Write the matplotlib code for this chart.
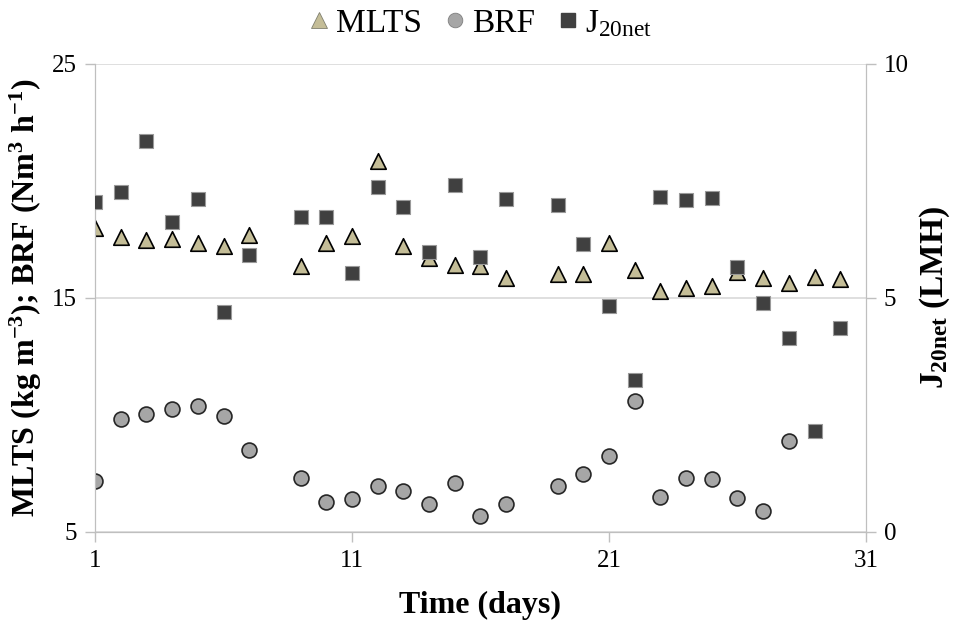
import matplotlib.pyplot as plt
from matplotlib.lines import Line2D

plt.rcParams["font.family"] = ["Liberation Serif", "DejaVu Serif"]
plt.rcParams["mathtext.fontset"] = "custom"
plt.rcParams["mathtext.rm"] = "Liberation Serif"
plt.rcParams["mathtext.it"] = "Liberation Serif"
plt.rcParams["mathtext.bf"] = "Liberation Serif:bold"

# Datos
dias = [1, 2, 3, 4, 5, 6, 7, 9, 10, 11, 12, 13, 14, 15, 16, 17,
        19, 20, 21, 22, 23, 24, 25, 26, 27, 28, 29, 30]
mlts = [18.0, 17.6, 17.45, 17.5, 17.35, 17.2, 17.7, 16.35, 17.35, 17.65, 20.85, 17.2,
        16.7, 16.4, 16.35, 15.85, 16.0, 16.0, 17.35, 16.2, 15.3, 15.4, 15.5, 16.1,
        15.85, 15.65, 15.9, 15.8]
j20net = [7.04, 7.27, 8.36, 6.63, 7.12, 4.69, 5.91, 6.72, 6.72, 5.54, 7.36, 6.93,
          5.97, 7.40, 5.88, 7.12, 6.99, 6.14, 4.82, 3.24, 7.16, 7.10, 7.14, 5.65,
          4.88, 4.14, 2.15, 4.35]
dias_brf = [1, 2, 3, 4, 5, 6, 7, 9, 10, 11, 12, 13, 14, 15, 16, 17,
            19, 20, 21, 22, 23, 24, 25, 26, 27, 28]
brf = [7.17, 9.82, 10.03, 10.25, 10.37, 9.95, 8.5, 7.3, 6.28, 6.41, 6.96, 6.75,
       6.19, 7.09, 5.68, 6.19, 6.96, 7.47, 8.24, 10.59, 6.49, 7.3, 7.26, 6.45,
       5.9, 8.88]

col_tri = "#c4bd97"
col_circ = "#a6a6a6"
col_sq = "#404040"

fig = plt.figure(figsize=(9.6, 6.25), dpi=100)
ax = fig.add_axes([0.099, 0.149, 0.803, 0.749])
ax2 = ax.twinx()

ax.scatter(dias, mlts, marker="^", s=125, color=col_tri, edgecolor="black",
           linewidth=1.2, zorder=3)
ax.scatter(dias_brf, brf, marker="o", s=115, color=col_circ, edgecolor="#262626",
           linewidth=1.2, zorder=3)
ax2.scatter(dias, j20net, marker="s", s=115, color=col_sq, edgecolor="#9a9a9a",
            linewidth=0.8, zorder=3)

ax.set_xlim(1, 31)
ax.set_ylim(5, 25)
ax2.set_ylim(0, 10)
ax.set_xticks([1, 11, 21, 31])
ax.set_yticks([5, 15, 25])
ax2.set_yticks([0, 5, 10])

ax.grid(axis="y", color="#d9d9d9", linewidth=1.2)
ax.set_axisbelow(True)

for a in (ax, ax2):
    a.spines["top"].set_visible(False)
    for s in ("left", "right", "bottom"):
        a.spines[s].set_color("#bfbfbf")
    a.tick_params(colors="#bfbfbf", labelcolor="black", labelsize=18,
                  length=7, width=1, direction="out", pad=6)

ax.set_xlabel("Time (days)", fontsize=23, fontweight="bold", labelpad=14)
ax.set_ylabel(r"MLTS (kg m$^{\mathbf{-3}}$); BRF (Nm$^{\mathbf{3}}$ h$^{\mathbf{-1}}$)",
              fontsize=23, fontweight="bold", labelpad=6)
ax2.set_ylabel(r"J$_{\mathbf{20net}}$ (LMH)", fontsize=24, fontweight="bold",
               labelpad=6)

handles = [
    Line2D([], [], linestyle="none", marker="^", markersize=11, markerfacecolor=col_tri,
           markeredgecolor="#7f7f6f", markeredgewidth=0.6),
    Line2D([], [], linestyle="none", marker="o", markersize=10.5, markerfacecolor=col_circ,
           markeredgecolor="#7f7f7f", markeredgewidth=0.6),
    Line2D([], [], linestyle="none", marker="s", markersize=9.5, markerfacecolor=col_sq,
           markeredgecolor=col_sq),
]
fig.legend(handles, ["MLTS", "BRF", r"J$_{\mathrm{20net}}$"], loc="upper center",
           bbox_to_anchor=(0.497, 1.035), ncol=3, frameon=False, fontsize=24,
           handletextpad=0.0, columnspacing=0.5, handlelength=1.0)

fig.savefig("out.png", dpi=100)
